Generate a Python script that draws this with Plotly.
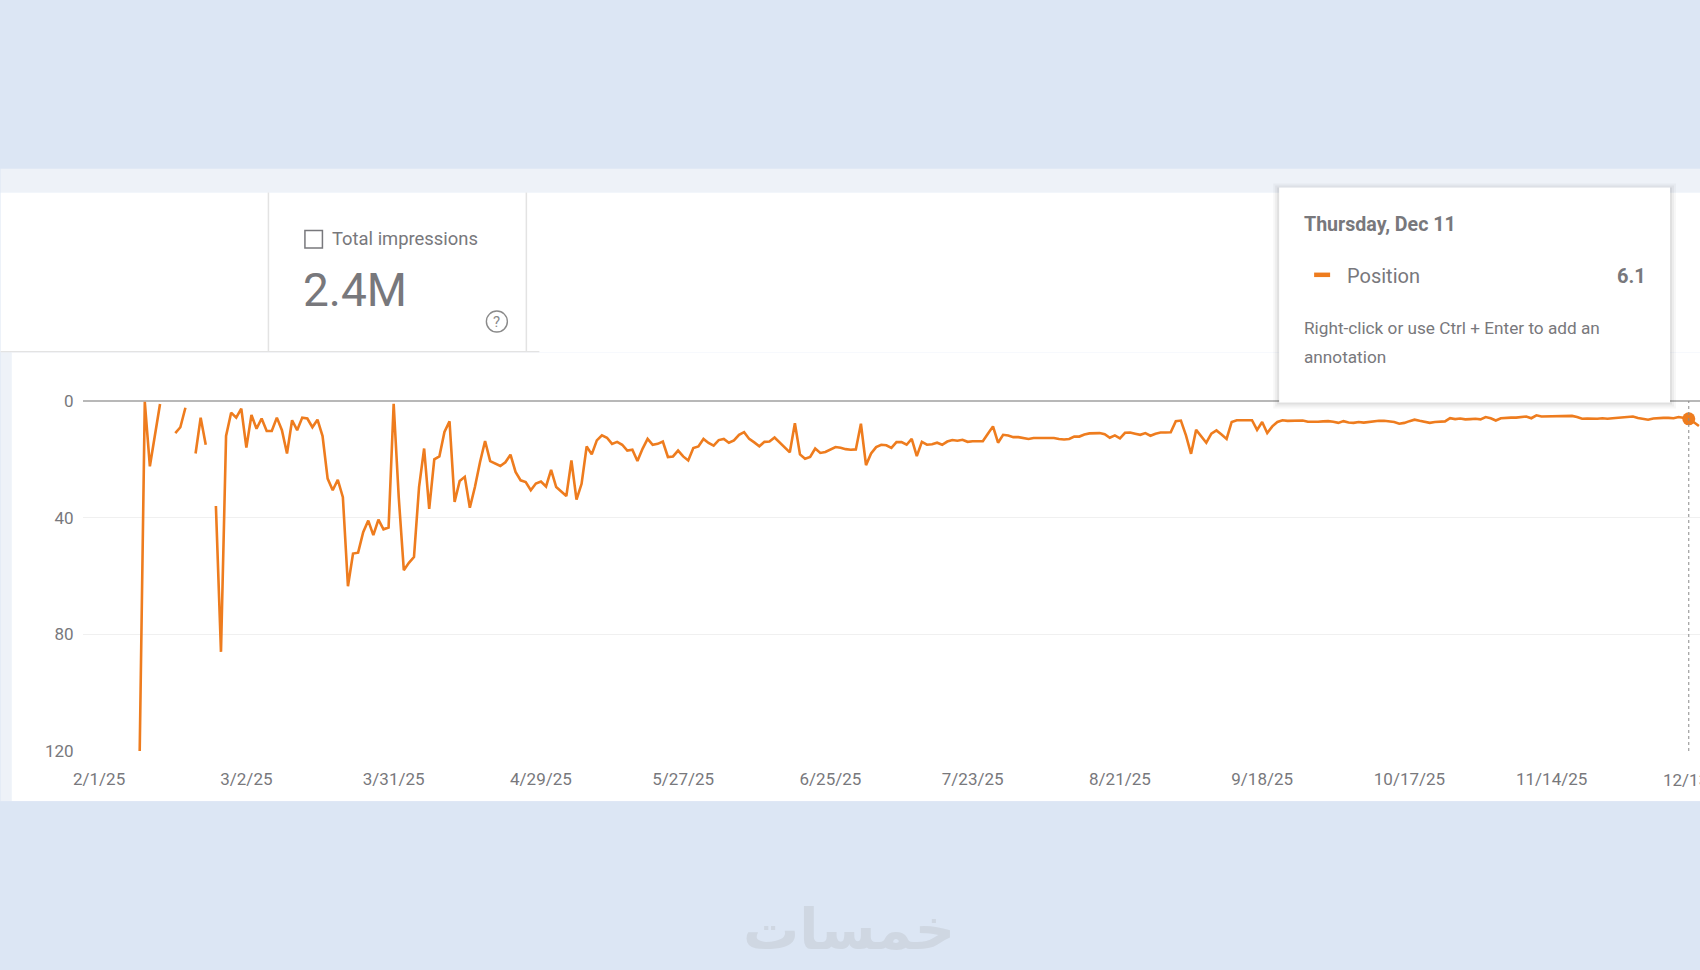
import pandas as pd
import plotly.graph_objects as go

# Position by day. None = no data that day.
start_date = "2025-02-09"
pos_feb_apr = [120, 0.3, 22.4, 12, 1, None, None, 11, 9, 2.3, None, 18, 5.7, 15, None, 36, 86, 12, 4, 5.7, 2.6, 16,
               4.8, 9.5, 6, 10.3, 10.3, 5.7, 10, 18, 6.6, 10, 5.7, 6, 9, 6.4, 12, 26.6, 30.6, 27, 33, 63.5, 52.3, 52,
               45, 41, 46, 40.7, 44, 43.4, 1, 33, 58, 55.5, 53.5, 29.5, 16.3, 37, 20, 19, 10.6, 7, 34.6, 27.4, 26,
               36.6, 29.5, 21, 13.7, 20.6, 21.5, 22.3, 21, 18.4, 24.3, 27.2, 27.8, 30.6, 28.3, 27.6]
pos_may_jul = [29.3, 23.6, 29.5, 31.2, 32.6, 20.4, 33.8, 28.4, 15.6, 18.3, 13.5, 11.8, 12.6, 14.7, 14, 15, 17, 16.7,
               20.6, 16.4, 13, 15, 14.7, 13.9, 19.2, 19, 17, 19, 20.4, 16.1, 15.6, 13, 14.4, 15.3, 13.4, 13, 14.3,
               13.5, 11.6, 10.7, 13, 14.2, 15.5, 14, 13.9, 12.5, 14.3, 15.8, 17.6, 7.6, 18.3, 19.8, 19.2, 16.3, 17.8,
               17.5, 16.6, 15.8, 16, 16.5, 16.7, 16.6, 7.8, 22, 18, 15.8, 15, 15.2, 16.1, 14.1, 14.1, 15, 13, 18.9,
               14, 15, 14.8, 14.3, 15, 13.9, 13.4, 13.6, 13.3, 14, 13.8, 13.8, 13.8, 11.2, 8.7, 14.3, 11.6, 11.8]
pos_aug_sep = [12.4, 12.4, 12.7, 13, 12.7, 12.7, 12.7, 12.6, 12.7, 13, 13.2, 13, 12.2, 12.2, 11.5, 11.1, 11, 11, 11.4,
               12.6, 11.8, 12.8, 10.9, 10.8, 11.2, 11.6, 11, 11.9, 11.2, 10.8, 10.8, 10.7, 6.9, 6.7, 11.8, 18.1, 9.9,
               12.2, 14.3, 11.2, 10.1, 11.5, 13, 7.2, 6.6, 6.6, 6.6, 6.6, 9.9, 7.2, 11, 8.7, 7.2, 6.6, 6.8]
pos_oct_dec = [6.8, 6.8, 6.7, 7.1, 7.2, 7.1, 7.0, 6.9, 7.1, 7.5, 6.9, 7.4, 7.5, 7.2, 7.4, 7.2, 6.9, 6.8, 6.8, 6.9, 7.2,
               7.8, 7.5, 6.9, 6.4, 6.8, 7.2, 7.5, 7.2, 7.2, 7.0, 5.9, 6.2, 6.0, 6.3, 6.2, 6.1, 6.3, 5.5, 5.9, 6.7, 5.9,
               5.7, 5.7, 5.7, 5.4, 5.3, 5.9, 4.9, 5.3, 5.3, 5.3, 5.2, 5.2, 5.1, 5.1, 5.5, 6.1, 6.0, 6.1, 6.1, 5.9, 6.1,
               5.9, 5.8, 5.7, 5.5, 5.3, 5.8, 6.2, 6.4, 6.0, 5.8, 5.8, 5.8, 5.9, 5.5, 5.8, 6.1, 7.3, 8.6]
values = pos_feb_apr + pos_may_jul + pos_aug_sep + pos_oct_dec
dates = pd.date_range(start_date, periods=len(values), freq="D")

hover_date = "2025-12-11"
hover_value = 6.1
y_ticks = [0, 40, 80, 120]
x_tick_dates = ["2025-02-01", "2025-03-02", "2025-03-31", "2025-04-29", "2025-05-27", "2025-06-25",
                "2025-07-23", "2025-08-21", "2025-09-18", "2025-10-17", "2025-11-14"]
x_tick_labels = ["2/1/25", "3/2/25", "3/31/25", "4/29/25", "5/27/25", "6/25/25",
                 "7/23/25", "8/21/25", "9/18/25", "10/17/25", "11/14/25"]
last_tick_date = "2025-12-13"
last_tick_label = "12/13/25"

W, H = 1700, 970
L, R, T, B = 82.5, 0, 400.5, 219.3
PW, PH = W - L - R, H - T - B
BLUE, BAND, ORANGE, GREY = "#DCE6F4", "#EEF2F8", "#EE7C1E", "#78787C"
FONT = "Roboto"


def px(x):
    return (x - L) / PW


def py(y):
    return 1 - (y - T) / PH


def box(x0, y0, x1, y1, fill=None, line=None, lw=0, layer="below", kind="rect"):
    return dict(type=kind, xref="paper", yref="paper", x0=px(x0), x1=px(x1), y0=py(y0), y1=py(y1),
                fillcolor=fill if fill else "rgba(0,0,0,0)",
                line=dict(color=line if line else "rgba(0,0,0,0)", width=lw), layer=layer)


def text(x, y, s, size, color=GREY, anchor="left", family=FONT):
    return dict(xref="paper", yref="paper", x=px(x), y=py(y), text=s, showarrow=False, xanchor=anchor,
                yanchor="middle", font=dict(family=family, size=size, color=color), align="left")


shapes = [
    box(0, 168, W, 192, BAND),
    box(0, 192, W, 352, "#FFFFFF"),
    box(0, 352, 11, 801, BAND),
    box(11, 352, W, 801, "#FFFFFF"),
    box(0, 801, W, H, BLUE),
    box(268, 192, 268, 350.5, None, "#E3E3E3", 1.5),
    box(526, 192, 526, 350.5, None, "#E3E3E3", 1.5),
    box(0, 351, 539, 351, None, "#E3E3E3", 1.2),
    box(304.5, 230, 322, 247.5, None, GREY, 1.5),
    box(486, 310.5, 507, 331.5, None, "#8A8A8A", 1.4, kind="circle"),
    dict(type="line", xref="x", yref="paper", x0=hover_date, x1=hover_date, y0=0, y1=1,
         line=dict(color="#8A8A8A", width=1, dash="dot"), layer="above"),
]
for grow, alpha in [(6, 0.03), (4, 0.04), (2, 0.05)]:
    shapes.append(box(1279 - grow, 187 - grow + 2, 1670 + grow, 402 + grow, f"rgba(0,0,0,{alpha})", layer="above"))
shapes += [
    box(1279, 187, 1670, 402, "#FFFFFF", layer="above"),
    box(1314, 272, 1330, 276.5, "#EE7C1E", layer="above"),
]

annotations = [
    text(330, 237.5, "Total impressions", 18.4),
    text(301, 289, "2.4M", 46),
    text(496.5, 321, "?", 15, "#8A8A8A", "center"),
    text(1302, 224, "<b>Thursday, Dec 11</b>", 19.6),
    text(1345, 275, "Position", 20),
    text(1648, 275, "<b>6.1</b>", 20, anchor="right"),
    text(1302, 327, "Right-click or use Ctrl + Enter to add an", 17.2),
    text(1302, 356, "annotation", 17.2),
    text(849, 929, "<b>خمسات</b>", 56, "#CFD7E2", "center", "DejaVu Sans"),
    dict(xref="x", yref="paper", x=last_tick_date, y=py(779.5), text=last_tick_label, showarrow=False,
         xanchor="center", yanchor="middle", font=dict(family=FONT, size=17, color=GREY)),
]

fig = go.Figure()
fig.add_trace(go.Scatter(x=dates, y=values, mode="lines", connectgaps=False,
                         line=dict(color=ORANGE, width=2.6), hoverinfo="skip", showlegend=False))
fig.add_trace(go.Scatter(x=[hover_date], y=[hover_value], mode="markers",
                         marker=dict(color=ORANGE, size=13), hoverinfo="skip", showlegend=False))

fig.update_layout(
    width=W, height=H, margin=dict(l=L, r=R, t=T, b=B, pad=0), autosize=False,
    paper_bgcolor=BLUE, plot_bgcolor="rgba(0,0,0,0)", showlegend=False,
    shapes=shapes, annotations=annotations,
    font=dict(family=FONT, color=GREY, size=17),
)
fig.update_xaxes(range=["2025-01-28 20:00", "2025-12-13 05:00"], tickmode="array", tickvals=x_tick_dates,
                 ticktext=x_tick_labels, showgrid=False, zeroline=False, showline=False, ticks="outside",
                 ticklen=13, tickcolor="rgba(0,0,0,0)", tickfont=dict(family=FONT, size=17, color=GREY),
                 tickangle=0, automargin=False)
fig.update_yaxes(range=[120, 0], tickmode="array", tickvals=y_ticks, ticktext=[str(v) for v in y_ticks],
                 showgrid=True, gridcolor="#F0F0F0", gridwidth=1, zeroline=True, zerolinecolor="#B8B8B8",
                 zerolinewidth=2, showline=False, ticks="outside", ticklen=5, tickcolor="rgba(0,0,0,0)",
                 tickfont=dict(family=FONT, size=17, color=GREY), automargin=False)

fig.write_html("out.html", config={"displayModeBar": False},
               post_script="document.body.style.margin='0';document.body.style.overflow='hidden';")
